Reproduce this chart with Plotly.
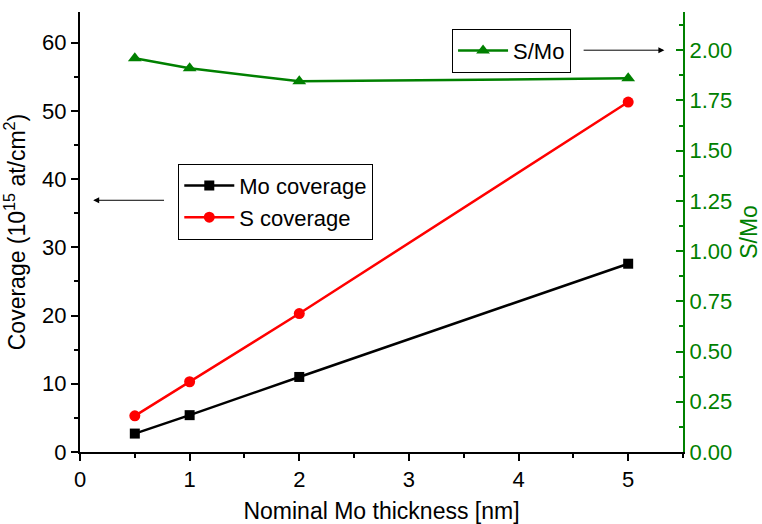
import plotly.graph_objects as go

# Nominal Mo thickness (nm)
thickness = [0.5, 1, 2, 5]
# Areal coverage (10^15 at/cm^2)
mo_coverage = [2.7, 5.4, 11.0, 27.6]
s_coverage = [5.3, 10.3, 20.3, 51.3]
# Stoichiometry ratio
s_mo_ratio = [1.96, 1.91, 1.845, 1.86]

x_ticks = [0, 1, 2, 3, 4, 5]
left_ticks = [0, 10, 20, 30, 40, 50, 60]
right_ticks = [0, 0.25, 0.5, 0.75, 1.0, 1.25, 1.5, 1.75, 2.0]

FONT = "Liberation Sans, Arial, sans-serif"
GREEN = "#008000"

fig = go.Figure()
fig.add_trace(go.Scatter(
    x=thickness, y=mo_coverage, name="Mo coverage", mode="lines+markers",
    line=dict(color="black", width=2.5),
    marker=dict(symbol="square", size=10, color="black"), legend="legend"))
fig.add_trace(go.Scatter(
    x=thickness, y=s_coverage, name="S coverage", mode="lines+markers",
    line=dict(color="#ff0000", width=2.5),
    marker=dict(symbol="circle", size=11, color="#ff0000"), legend="legend"))
fig.add_trace(go.Scatter(
    x=thickness, y=s_mo_ratio, name="S/Mo", mode="lines+markers", yaxis="y2",
    line=dict(color=GREEN, width=2.5),
    marker=dict(symbol="triangle-up", size=12, color=GREEN), legend="legend2"))

axis_common = dict(showgrid=False, zeroline=False, showline=True, linewidth=2,
                   ticklen=7, tickwidth=1.5, automargin=False)

fig.update_layout(
    width=762, height=524,
    margin=dict(l=80, r=79, t=12, b=72),
    plot_bgcolor="white", paper_bgcolor="white",
    font=dict(family=FONT, size=22, color="black"),
    xaxis=dict(range=[0, 5.5], tickvals=x_ticks, ticks="outside",
               linecolor="black", tickcolor="black",
               minor=dict(dtick=0.5, tick0=0, ticks="outside", ticklen=4,
                          tickcolor="black", tickwidth=1.5),
               title=dict(text="Nominal Mo thickness [nm]", font=dict(size=23)),
               **axis_common),
    yaxis=dict(range=[0, 64.5], tickvals=left_ticks, ticks="outside",
               linecolor="black", tickcolor="black",
               minor=dict(dtick=5, tick0=0, ticks="outside", ticklen=4,
                          tickcolor="black", tickwidth=1.5),
               title=dict(text="Coverage (10<sup>15</sup> at/cm<sup>2</sup>)",
                          font=dict(size=23)),
               **axis_common),
    yaxis2=dict(range=[0, 2.19], overlaying="y", side="right", anchor="x",
                tickvals=right_ticks, tickformat=".2f", ticks="inside",
                linecolor=GREEN, tickcolor=GREEN,
                tickfont=dict(color=GREEN),
                minor=dict(dtick=0.125, tick0=0, ticks="inside", ticklen=4,
                           tickcolor=GREEN, tickwidth=1.5),
                title=dict(text="S/Mo", font=dict(size=23, color=GREEN)),
                **axis_common),
    legend=dict(x=0.163, y=0.655, xanchor="left", yanchor="top",
                bordercolor="black", borderwidth=1, bgcolor="white",
                font=dict(size=22), tracegroupgap=0, itemwidth=50),
    legend2=dict(x=0.617, y=0.962, xanchor="left", yanchor="top",
                 bordercolor="black", borderwidth=1, bgcolor="white",
                 font=dict(size=22), itemwidth=50),
    annotations=[
        dict(x=0.12, y=36.9, ax=0.78, ay=36.9, xref="x", yref="y",
             axref="x", ayref="y", text="", showarrow=True,
             arrowhead=2, arrowsize=1.2, arrowwidth=1, arrowcolor="black"),
        dict(x=5.33, y=58.9, ax=4.58, ay=58.9, xref="x", yref="y",
             axref="x", ayref="y", text="", showarrow=True,
             arrowhead=2, arrowsize=1.2, arrowwidth=1, arrowcolor="black"),
    ],
)

fig.write_html("out.html")
